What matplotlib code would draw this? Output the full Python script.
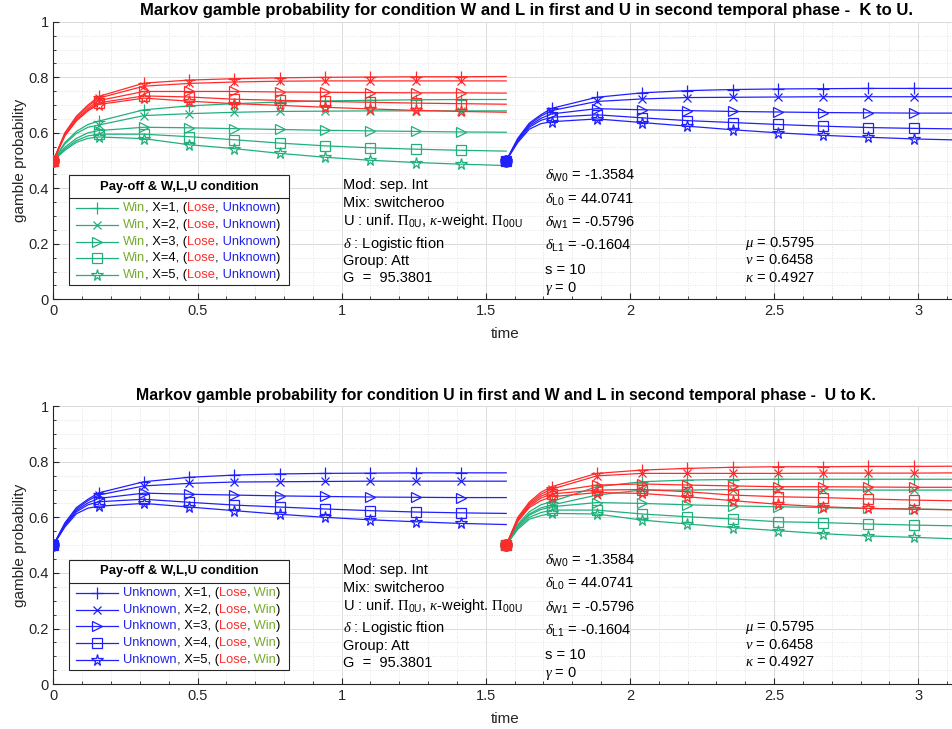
import matplotlib
matplotlib.use('Agg')
import matplotlib.pyplot as plt
from matplotlib.patches import Rectangle
from matplotlib.ticker import MultipleLocator, FormatStrFormatter

plt.rcParams['font.family'] = ['Liberation Sans', 'DejaVu Sans']
plt.rcParams['mathtext.fontset'] = 'custom'
plt.rcParams['mathtext.rm'] = 'Liberation Serif'
plt.rcParams['mathtext.it'] = 'Liberation Serif:italic'
plt.rcParams['mathtext.sf'] = 'Liberation Sans'
plt.rcParams['mathtext.bf'] = 'Liberation Sans:bold'

# time grids of the two temporal phases
t_phase1 = [0.0, 0.04, 0.08, 0.12, 0.157, 0.314, 0.471, 0.628, 0.785, 0.942, 1.1, 1.257, 1.414, 1.571]
t_phase2 = [1.571, 1.611, 1.651, 1.691, 1.728, 1.885, 2.042, 2.199, 2.356, 2.513, 2.67, 2.827, 2.985, 3.142]

# top panel, phase 1: Lose (red) and Win (green), X=1..5
lose_first = [
    [.5, .600, .660, .700, .731, .779, .790, .795, .798, .800, .801, .802, .802, .803],
    [.5, .598, .656, .695, .725, .768, .778, .783, .786, .787, .787, .787, .787, .787],
    [.5, .594, .650, .688, .716, .749, .749, .749, .747, .746, .745, .744, .744, .743],
    [.5, .591, .646, .683, .708, .733, .729, .721, .717, .713, .710, .707, .705, .703],
    [.5, .589, .643, .679, .702, .725, .714, .705, .699, .692, .686, .681, .677, .674],
]
win_first = [
    [.5, .565, .605, .630, .642, .683, .697, .705, .711, .715, .717, .719, .720, .720],
    [.5, .560, .598, .620, .628, .662, .669, .674, .677, .678, .679, .679, .679, .679],
    [.5, .548, .580, .600, .608, .620, .618, .615, .612, .609, .607, .605, .603, .602],
    [.5, .542, .572, .589, .595, .595, .586, .575, .563, .553, .546, .541, .537, .534],
    [.5, .537, .566, .580, .585, .579, .557, .543, .526, .512, .501, .493, .487, .482],
]
# Unknown (blue): phase 2 of top panel, phase 1 of bottom panel
unknown = [
    [.5, .580, .635, .665, .688, .728, .744, .752, .756, .758, .759, .760, .760, .760],
    [.5, .577, .630, .660, .680, .713, .722, .727, .728, .729, .730, .730, .730, .730],
    [.5, .573, .625, .652, .668, .687, .683, .680, .677, .675, .673, .672, .671, .671],
    [.5, .570, .620, .645, .656, .665, .654, .644, .637, .630, .624, .619, .616, .614],
    [.5, .565, .613, .633, .640, .650, .637, .624, .611, .600, .591, .584, .578, .574],
]
# bottom panel, phase 2: Lose (red) and Win (green)
lose_second = [
    [.5, .600, .655, .690, .710, .758, .770, .776, .780, .782, .782, .783, .783, .784],
    [.5, .595, .650, .683, .701, .749, .758, .758, .758, .758, .759, .759, .759, .760],
    [.5, .592, .645, .676, .692, .716, .720, .716, .713, .710, .710, .709, .708, .708],
    [.5, .588, .640, .669, .684, .698, .700, .692, .680, .674, .671, .666, .662, .659],
    [.5, .585, .635, .660, .674, .689, .686, .674, .660, .647, .638, .632, .629, .627],
]
win_second = [
    [.5, .575, .620, .645, .656, .710, .728, .734, .736, .737, .737, .737, .737, .737],
    [.5, .570, .612, .634, .644, .680, .698, .698, .700, .700, .699, .698, .698, .698],
    [.5, .567, .608, .628, .638, .653, .650, .645, .641, .638, .635, .632, .630, .627],
    [.5, .562, .600, .617, .626, .626, .612, .602, .594, .584, .581, .576, .572, .569],
    [.5, .557, .593, .606, .614, .612, .590, .576, .563, .552, .541, .533, .528, .522],
]

titles = [
    'Markov gamble probability for condition W and L in first and U in second temporal phase -  K to U.',
    'Markov gamble probability for condition U in first and W and L in second temporal phase -  U to K.',
]
left_notes = ['Mod: sep. Int', 'Mix: switcheroo',
              r'U : unif. $\Pi_{\mathsf{0U}}$, $\kappa$-weight. $\Pi_{\mathsf{00U}}$',
              r'$\delta$ : Logistic ftion', 'Group: Att', 'G  =  95.3801']
mid_notes = [r'$\delta_{\mathsf{W0}}$ = -1.3584', r'$\delta_{\mathsf{L0}}$ = 44.0741',
             r'$\delta_{\mathsf{W1}}$ = -0.5796', r'$\delta_{\mathsf{L1}}$ = -0.1604',
             's = 10', r'$\gamma$ = 0']
right_notes = [r'$\mu$ = 0.5795', r'$\nu$ = 0.6458', r'$\kappa$ = 0.4927']

RED = '#ff2b2b'
GREEN = '#21b07c'
BLUE = '#2020ff'
WIN_TXT = '#77ac30'
LOSE_TXT = '#ff2d2d'
UNK_TXT = '#2323e6'
INK = '#262626'

markers = ['+', 'x', '>', 's', '*']
msizes = [8, 6, 7, 6.5, 8.5]
mark_idx = [0, 4, 5, 6, 7, 8, 9, 10, 11, 12]


def draw_group(ax, t, series, color):
    for vals, m, s in zip(series, markers, msizes):
        ax.plot(t, vals, color=color, lw=0.9, marker=m, markevery=mark_idx,
                ms=s, mfc='none', mew=0.9, zorder=3)
    ax.plot(t[0], series[0][0], 'o', color=color, ms=8, zorder=4)


def setup(ax):
    ax.set_xlim(0, 3.1416)
    ax.set_ylim(0, 1)
    ax.xaxis.set_major_locator(MultipleLocator(0.5))
    ax.xaxis.set_minor_locator(MultipleLocator(0.1))
    ax.yaxis.set_major_locator(MultipleLocator(0.2))
    ax.yaxis.set_minor_locator(MultipleLocator(0.05))
    ax.xaxis.set_major_formatter(FormatStrFormatter('%g'))
    ax.yaxis.set_major_formatter(FormatStrFormatter('%g'))
    ax.grid(which='major', color='#dadada', lw=0.7)
    ax.grid(which='minor', color='#e2e2e2', lw=0.7, ls=':')
    ax.set_axisbelow(True)
    for side in ['top', 'right']:
        ax.spines[side].set_visible(False)
    for side in ['left', 'bottom']:
        ax.spines[side].set_color(INK)
        ax.spines[side].set_linewidth(0.8)
    ax.tick_params(which='both', direction='in', colors=INK, labelsize=10.5)
    ax.tick_params(which='major', length=4)
    ax.tick_params(which='minor', length=2)
    ax.set_xlabel('time', fontsize=11, color=INK)
    ax.set_ylabel('gamble probability', fontsize=11, color=INK)
    ax.xaxis.set_label_coords(0.4987, -0.10)
    ax.yaxis.set_label_coords(-0.029, 0.5)


def notes(ax):
    for s, y in zip(left_notes, [.397, .331, .267, .186, .123, .061]):
        ax.text(0.320, y, s, transform=ax.transAxes, fontsize=10.5, color='black', va='baseline')
    for s, y in zip(mid_notes, [.430, .3445, .2605, .1777, .0912, .0263]):
        ax.text(0.543, y, s, transform=ax.transAxes, fontsize=10.5, color='black', va='baseline')
    for s, y in zip(right_notes, [.1895, .1272, .0634]):
        ax.text(0.7634, y, s, transform=ax.transAxes, fontsize=10.5, color='black', va='baseline')


def legend(ax, line_color, lead, lead_color, tail):
    ax.add_patch(Rectangle((0.0172, 0.0515), 0.2428, 0.3965, transform=ax.transAxes,
                           fc='white', ec=INK, lw=0.8, zorder=5, clip_on=False))
    ax.plot([0.0172, 0.26], [0.365, 0.365], transform=ax.transAxes, color=INK,
            lw=0.8, zorder=6, clip_on=False)
    ax.text(0.1386, 0.4065, 'Pay-off & W,L,U condition', transform=ax.transAxes,
            ha='center', va='center', fontweight='bold', fontsize=9.4, zorder=7)
    rows = [.328, .268, .2076, .1477, .0876]
    for k, (m, s, y) in enumerate(zip(markers, msizes, rows)):
        ax.plot([0.025, 0.0713], [y, y], transform=ax.transAxes, color=line_color,
                lw=0.9, zorder=6, clip_on=False)
        ax.plot([0.048], [y], transform=ax.transAxes, color=line_color, marker=m,
                ms=s, mfc='none', mew=0.9, zorder=6, clip_on=False)
        pieces = [(lead, lead_color), (', X=%d, (' % (k + 1), 'black'),
                  (tail[0][0], tail[0][1]), (',', 'black'),
                  (' ' + tail[1][0], tail[1][1]), (')', 'black')]
        txt = ax.text(0.0769, y, pieces[0][0], color=pieces[0][1], transform=ax.transAxes,
                      va='center', fontsize=9.3, zorder=7)
        for s_, c in pieces[1:]:
            txt = ax.annotate(s_, xy=(1, 0), xycoords=txt, va='bottom', ha='left',
                              color=c, fontsize=9.3, zorder=7)


fig = plt.figure(figsize=(9.53, 7.29), dpi=100)
ax1 = fig.add_axes([0.056, 0.5894, 0.9503, 0.3807])
ax2 = fig.add_axes([0.056, 0.0616, 0.9503, 0.3813])

setup(ax1)
draw_group(ax1, t_phase1, win_first, GREEN)
draw_group(ax1, t_phase1, lose_first, RED)
draw_group(ax1, t_phase2, unknown, BLUE)
notes(ax1)
legend(ax1, GREEN, 'Win', WIN_TXT, [('Lose', LOSE_TXT), ('Unknown', UNK_TXT)])

setup(ax2)
draw_group(ax2, t_phase1, unknown, BLUE)
draw_group(ax2, t_phase2, win_second, GREEN)
draw_group(ax2, t_phase2, lose_second, RED)
notes(ax2)
legend(ax2, BLUE, 'Unknown', UNK_TXT, [('Lose', LOSE_TXT), ('Win', WIN_TXT)])

fig.text(0.552, 0.986, titles[0], ha='center', va='center', fontsize=12, fontweight='bold')
fig.text(0.531, 0.457, titles[1], ha='center', va='center', fontsize=11.4, fontweight='bold')

fig.savefig('out.png', dpi=100)
